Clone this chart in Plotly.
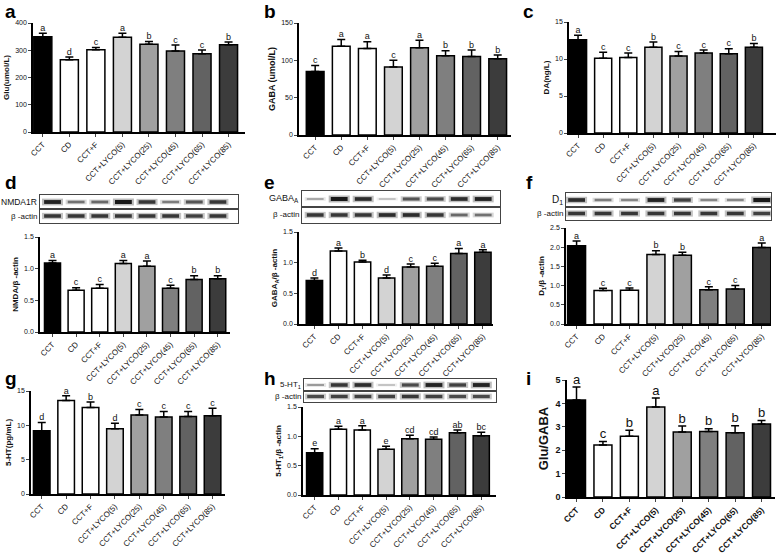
import plotly.graph_objects as go

W, H = 778, 556
FONT = "Liberation Sans, Arial, sans-serif"

groups = ["CCT", "CD", "CCT+F", "CCT+LYCO(5)", "CCT+LYCO(25)",
          "CCT+LYCO(45)", "CCT+LYCO(65)", "CCT+LYCO(85)"]

# ---- data ----
glu_mean = [350, 265, 302, 348, 322, 297, 287, 320]
glu_err = [12, 10, 8, 14, 10, 22, 14, 10]
glu_let = ["a", "d", "c", "a", "b", "c", "c", "b"]

gaba_mean = [85, 119, 116, 91, 117, 106, 105, 102]
gaba_err = [8, 9, 9, 9, 10, 7, 9, 5]
gaba_let = ["c", "a", "a", "c", "a", "b", "b", "b"]

da_mean = [12.6, 10.1, 10.2, 11.6, 10.4, 10.8, 10.7, 11.6]
da_err = [0.6, 0.8, 0.6, 0.7, 0.6, 0.4, 0.7, 0.5]
da_let = ["a", "c", "c", "b", "c", "c", "c", "b"]

nmda_mean = [1.09, 0.66, 0.69, 1.08, 1.04, 0.69, 0.83, 0.84]
nmda_err = [0.04, 0.04, 0.06, 0.05, 0.08, 0.05, 0.06, 0.05]
nmda_let = ["a", "c", "c", "a", "a", "c", "b", "b"]

gabaa_mean = [0.71, 1.19, 1.01, 0.75, 0.93, 0.94, 1.15, 1.17]
gabaa_err = [0.04, 0.05, 0.03, 0.05, 0.05, 0.05, 0.08, 0.04]
gabaa_let = ["d", "a", "b", "d", "c", "c", "a", "a"]

d1_mean = [2.04, 0.87, 0.88, 1.81, 1.79, 0.89, 0.91, 1.99]
d1_err = [0.12, 0.06, 0.06, 0.10, 0.08, 0.08, 0.09, 0.12]
d1_let = ["a", "c", "c", "b", "b", "c", "c", "a"]

ht_mean = [9.2, 13.6, 12.6, 9.5, 11.5, 11.2, 11.3, 11.4]
ht_err = [1.2, 0.7, 0.8, 0.8, 0.8, 0.8, 0.7, 1.1]
ht_let = ["d", "a", "b", "d", "c", "c", "c", "c"]

ht1_mean = [0.72, 1.12, 1.11, 0.78, 0.96, 0.95, 1.06, 1.01]
ht1_err = [0.07, 0.05, 0.07, 0.05, 0.06, 0.04, 0.05, 0.06]
ht1_let = ["e", "a", "a", "e", "cd", "cd", "ab", "bc"]

ratio_mean = [4.15, 2.22, 2.60, 3.85, 2.78, 2.80, 2.75, 3.12]
ratio_err = [0.55, 0.15, 0.25, 0.38, 0.25, 0.12, 0.30, 0.15]
ratio_let = ["a", "c", "b", "a", "b", "b", "b", "b"]

# western blot band intensities (0..1)
nmda_band = [0.95, 0.55, 0.6, 1.0, 0.85, 0.5, 0.7, 0.85]
nmda_actin = [0.85, 0.85, 0.85, 0.85, 0.85, 0.85, 0.8, 0.85]
gabaa_band = [0.3, 1.0, 0.9, 0.2, 0.7, 0.75, 0.9, 0.95]
gabaa_actin = [0.85, 0.85, 0.85, 0.9, 0.9, 0.85, 0.6, 0.55]
d1_band = [0.9, 0.5, 0.45, 0.95, 0.8, 0.45, 0.45, 1.0]
d1_actin = [0.85, 0.85, 0.85, 0.85, 0.85, 0.85, 0.85, 0.8]
ht1_band = [0.35, 0.85, 0.9, 0.2, 0.75, 0.95, 0.8, 0.95]
ht1_actin = [0.75, 0.8, 0.8, 0.8, 0.85, 0.8, 0.75, 0.75]

bar_colors = ["#000000", "#ffffff", "#ffffff", "#d3d3d3", "#a0a0a0",
              "#7f7f7f", "#626262", "#3c3c3c"]
bar_patterns = ["", "", "x", "", "", "", "", ""]

fig = go.Figure()
layout = {}


def dom(px, py):
    return [px[0] / W, px[1] / W], [1 - py[1] / H, 1 - py[0] / H]


def ax_names(k):
    return ("xaxis" if k == 1 else f"xaxis{k}",
            "yaxis" if k == 1 else f"yaxis{k}",
            "x" if k == 1 else f"x{k}",
            "y" if k == 1 else f"y{k}")


def bar_panel(k, px, py, xr_, mean, err, letters, ymax, dtick, ytitle, fmt,
              tickfs=7, titlefs=8, letfs=9, xtickfs=8, big=False):
    xd, yd = dom(px, py)
    xa, ya, xr, yr = ax_names(k)
    fig.add_trace(go.Bar(
        x=list(range(len(groups))), y=mean, xaxis=xr, yaxis=yr, width=0.68,
        marker=dict(color=bar_colors, line=dict(color="black", width=1.5),
                    pattern=dict(shape=bar_patterns, fgcolor="black",
                                 size=4, solidity=0.45)),
        error_y=dict(type="data", symmetric=False, array=err,
                     arrayminus=[0] * len(err), color="black",
                     thickness=1.5, width=4),
        showlegend=False))
    fig.add_trace(go.Scatter(
        x=list(range(len(groups))), y=[m + e for m, e in zip(mean, err)],
        xaxis=xr, yaxis=yr, mode="text", text=letters,
        textposition="top center", cliponaxis=False,
        textfont=dict(size=letfs, family=FONT, color="#111"),
        showlegend=False))
    wt = "bold" if big else "normal"
    layout[xa] = dict(domain=xd, anchor=yr, range=xr_, showline=True,
                      linecolor="black", linewidth=1.5, ticks="outside",
                      ticklen=3, tickwidth=1, tickmode="array",
                      tickvals=list(range(len(groups))), ticktext=groups,
                      tickangle=-45, showgrid=False, zeroline=False,
                      automargin=False,
                      tickfont=dict(size=xtickfs, family=FONT, color="#111",
                                    weight=wt))
    layout[ya] = dict(domain=yd, anchor=xr, range=[0, ymax], dtick=dtick,
                      tick0=0, showline=True, linecolor="black",
                      linewidth=1.5, ticks="outside", ticklen=3,
                      tickwidth=1.2, showgrid=False, zeroline=False,
                      tickformat=fmt, automargin=False,
                      tickfont=dict(size=tickfs, family=FONT, color="#111",
                                    weight=wt),
                      title=dict(text=ytitle, standoff=4,
                                 font=dict(size=titlefs, family=FONT,
                                           color="#111", weight="bold")))


def blot_row(k, px, py, xr_, inten, label, labfs=8):
    xd, yd = dom(px, py)
    xa, ya, xr, yr = ax_names(k)
    xs = list(range(len(inten)))
    halo_c = [f"rgb({int(250 - 120 * v)},{int(250 - 120 * v)},{int(250 - 120 * v)})" for v in inten]
    core_c = [f"rgb({int(225 - 200 * v)},{int(225 - 200 * v)},{int(225 - 200 * v)})" for v in inten]
    fig.add_trace(go.Scatter(
        x=xs, y=[0.5] * len(xs), xaxis=xr, yaxis=yr, mode="markers",
        marker=dict(symbol="line-ew", size=15,
                    line=dict(width=[2 + 5 * v for v in inten], color=halo_c)),
        opacity=0.55, showlegend=False, hoverinfo="skip"))
    fig.add_trace(go.Scatter(
        x=xs, y=[0.5] * len(xs), xaxis=xr, yaxis=yr, mode="markers",
        marker=dict(symbol="line-ew", size=12,
                    line=dict(width=[1 + 3 * v for v in inten], color=core_c)),
        showlegend=False, hoverinfo="skip"))
    layout[xa] = dict(domain=xd, anchor=yr, range=xr_, showline=True,
                      mirror=True, linecolor="#444", linewidth=1,
                      showticklabels=False, ticks="", showgrid=False,
                      zeroline=False, automargin=False, fixedrange=True)
    layout[ya] = dict(domain=yd, anchor=xr, range=[0, 1], showline=True,
                      mirror=True, linecolor="#444", linewidth=1,
                      showticklabels=False, ticks="", showgrid=False,
                      zeroline=False, automargin=False, fixedrange=True)
    fig.add_annotation(text=label, xref=f"{xr} domain", yref=f"{yr} domain",
                       x=0, y=0.5, xanchor="right", yanchor="middle",
                       xshift=-1, showarrow=False,
                       font=dict(size=labfs, family=FONT, color="#111"))


# ---- bar panels ----
bar_panel(1, (33, 245), (23, 132), [-0.37, 7.62], glu_mean, glu_err, glu_let,
          400, 100, "Glu(umol/L)", "d")
bar_panel(2, (299, 511), (23, 135), [-0.62, 7.51], gaba_mean, gaba_err,
          gaba_let, 150, 50, "GABA (umol/L)", "d", titlefs=9)
bar_panel(3, (569, 776), (22, 133), [-0.36, 7.88], da_mean, da_err, da_let,
          15, 5, "DA(ng/L)", "d")
bar_panel(4, (40, 230), (237, 332), [-0.53, 7.52], nmda_mean, nmda_err,
          nmda_let, 1.5, 0.5, "NMDA/β -actin", ".1f")
bar_panel(5, (299, 493), (232, 324), [-0.64, 7.42], gabaa_mean, gabaa_err,
          gabaa_let, 1.5, 0.5, "GABA<sub>A</sub>/β -actin", ".1f")
bar_panel(6, (566, 771), (228, 324), [-0.4, 7.35], d1_mean, d1_err, d1_let,
          2.5, 0.5, "D<sub>1</sub>/β -actin", ".1f")
bar_panel(7, (31, 225), (391, 494), [-0.44, 7.51], ht_mean, ht_err, ht_let,
          15, 5, "5-HT(pg/mL)", "d")
bar_panel(8, (303, 496), (407, 495), [-0.49, 7.62], ht1_mean, ht1_err,
          ht1_let, 1.5, 0.5, "5-HT<sub>1</sub>/β -actin", ".1f")
bar_panel(9, (567, 775), (380, 497), [-0.36, 7.51], ratio_mean, ratio_err,
          ratio_let, 5, 1, "Glu/GABA", "d", tickfs=9, titlefs=13, letfs=13,
          xtickfs=8.5, big=True)

# ---- blots ----
blot_row(10, (40, 238), (195, 209), [-0.53, 7.85], nmda_band, "NMDA1R", 8.5)
blot_row(11, (40, 238), (209, 223), [-0.53, 7.85], nmda_actin, "β -actin", 8)
blot_row(12, (302, 500), (191, 207), [-0.55, 7.7], gabaa_band,
         "GABA<sub>A</sub>", 9)
blot_row(13, (302, 500), (207, 223), [-0.55, 7.7], gabaa_actin, "β -actin", 8)
blot_row(14, (566, 771), (193, 207), [-0.4, 7.35], d1_band, "D<sub>1</sub>", 10)
blot_row(15, (566, 771), (207, 220), [-0.4, 7.35], d1_actin, "β -actin", 8)
blot_row(16, (304, 496), (379, 391), [-0.49, 7.62], ht1_band,
         "5-HT<sub>1</sub>", 8)
blot_row(17, (304, 496), (391, 402), [-0.49, 7.62], ht1_actin, "β -actin", 8)

# ---- panel letters ----
for lab, x, y in [("a", 3, 12), ("b", 262, 12), ("c", 521, 12),
                  ("d", 3, 183), ("e", 262, 183), ("f", 524, 183),
                  ("g", 3, 378), ("h", 262, 378), ("i", 524, 378)]:
    fig.add_annotation(text=f"<b>{lab}</b>", xref="paper", yref="paper",
                       x=x / W, y=1 - y / H, xanchor="left", yanchor="middle",
                       showarrow=False,
                       font=dict(size=19, family=FONT, color="black"))

fig.update_layout(width=W, height=H, margin=dict(l=0, r=0, t=0, b=0),
                  paper_bgcolor="white", plot_bgcolor="white",
                  template="none", showlegend=False, **layout)

fig.write_html("out.html", config={"displayModeBar": False},
               post_script="document.body.style.margin='0px';"
                           "document.body.style.overflow='hidden';")
